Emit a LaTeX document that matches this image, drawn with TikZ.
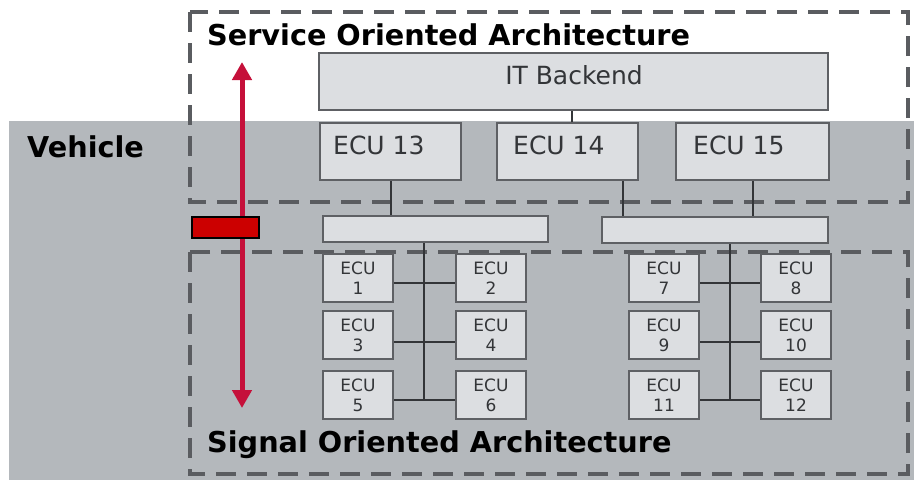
\documentclass[tikz,border=0pt]{standalone}
\usepackage{fontspec}
\setmainfont{DejaVu Sans}
\usetikzlibrary{arrows.meta}
\definecolor{bggray}{HTML}{B4B8BC}
\definecolor{boxfill}{HTML}{DCDEE1}
\definecolor{boxline}{HTML}{5E6064}
\definecolor{dashgray}{HTML}{5A5C60}
\definecolor{txtgray}{HTML}{333538}
\definecolor{arrowred}{HTML}{C5103A}
\definecolor{gatered}{HTML}{CC0000}
\tikzset{
  zone/.style={draw=dashgray, line width=3.5pt, dash pattern=on 20pt off 11pt},
  ecubox/.style={draw=boxline, fill=boxfill, line width=2pt, inner sep=0pt},
  bigecu/.style={ecubox, minimum height=57pt},
  smallecu/.style={ecubox, minimum width=70pt, minimum height=48pt,
    align=center, text=txtgray, font=\fontsize{17}{20}\selectfont},
  bigtext/.style={text=txtgray, font=\fontsize{25}{30}\selectfont, inner sep=0pt},
  title/.style={font=\bfseries\fontsize{28.7}{32}\selectfont, text=black, inner sep=0pt},
  wire/.style={draw=txtgray, line width=1.5pt},
  redarrow/.style={draw=arrowred, line width=5pt,
    {Triangle[width=19pt,length=18pt]}-{Triangle[width=19pt,length=18pt]}}
}
\begin{document}
\begin{tikzpicture}[x=1pt,y=-1pt]
\useasboundingbox (0,0) rectangle (914,480);
% vehicle area
\fill[bggray] (9,121) rectangle (914,480);

% architecture zones
\draw[zone] (190,12) rectangle (908,202);
\draw[zone] (190,252) rectangle (908,474);

% backend and central ECUs
\node[bigecu, minimum width=509pt] (it) at (573.5,81) {};
\node[bigecu, minimum width=141pt] (e13) at (390.5,151.5) {};
\node[bigecu, minimum width=141pt] (e14) at (567.5,151.5) {};
\node[bigecu, minimum width=153pt] (e15) at (752.5,151.5) {};

% gateways / buses
\node[ecubox, minimum width=225pt, minimum height=26pt] (busL) at (435,229) {};
\node[ecubox, minimum width=226pt, minimum height=26pt] (busR) at (715,230) {};

% connectors
\coordinate (itd) at (572,111);
\coordinate (itu) at (572,122);
\draw[wire] (itd) -- (itu);
\draw[wire] (e13.south -| 391,0) -- (busL.north -| 391,0);
\draw[wire] (e14.south -| 623,0) -- (busR.north -| 623,0);
\draw[wire] (e15.south -| 753,0) -- (busR.north -| 753,0);

% left cluster
\coordinate (lb) at (424,400);
\draw[wire] (busL.south -| lb) -- (lb);
\node[smallecu] (c1) at (358,278) {ECU\\1};
\node[smallecu] (c2) at (491,278) {ECU\\2};
\node[smallecu] (c3) at (358,335) {ECU\\3};
\node[smallecu] (c4) at (491,335) {ECU\\4};
\node[smallecu] (c5) at (358,395) {ECU\\5};
\node[smallecu] (c6) at (491,395) {ECU\\6};
\draw[wire] (c1.east |- 0,283) -- (c2.west |- 0,283);
\draw[wire] (c3.east |- 0,342) -- (c4.west |- 0,342);
\draw[wire] (c5.east |- 0,400) -- (c6.west |- 0,400);

% right cluster
\coordinate (rb) at (730,400);
\draw[wire] (busR.south -| rb) -- (rb);
\node[smallecu] (c7) at (664,278) {ECU\\7};
\node[smallecu] (c8) at (796,278) {ECU\\8};
\node[smallecu] (c9) at (664,335) {ECU\\9};
\node[smallecu] (c10) at (796,335) {ECU\\10};
\node[smallecu] (c11) at (664,395) {ECU\\11};
\node[smallecu] (c12) at (796,395) {ECU\\12};
\draw[wire] (c7.east |- 0,283) -- (c8.west |- 0,283);
\draw[wire] (c9.east |- 0,342) -- (c10.west |- 0,342);
\draw[wire] (c11.east |- 0,400) -- (c12.west |- 0,400);

% box labels
\node[bigtext] (itlab) at (574,75) {IT Backend};
\node[bigtext, anchor=west] (l13) at (333,145) {ECU 13};
\node[bigtext, anchor=west] (l14) at (513,145) {ECU 14};
\node[bigtext, anchor=west] (l15) at (693,145) {ECU 15};

% migration arrow and gateway marker
\coordinate (atop) at (242,62);
\coordinate (abot) at (242,408);
\draw[redarrow] (abot) -- (atop);
\node[draw=black, fill=gatered, line width=1.5pt, minimum width=67pt, minimum height=21pt, inner sep=0pt] (gw) at (225.5,227.5) {};

% titles
\node[title, anchor=base west] (soa) at (207,45) {Service Oriented Architecture};
\node[title, anchor=base west] (veh) at (27,157) {Vehicle};
\node[title, anchor=base west] (sig) at (207,452) {Signal Oriented Architecture};
\end{tikzpicture}
\end{document}
